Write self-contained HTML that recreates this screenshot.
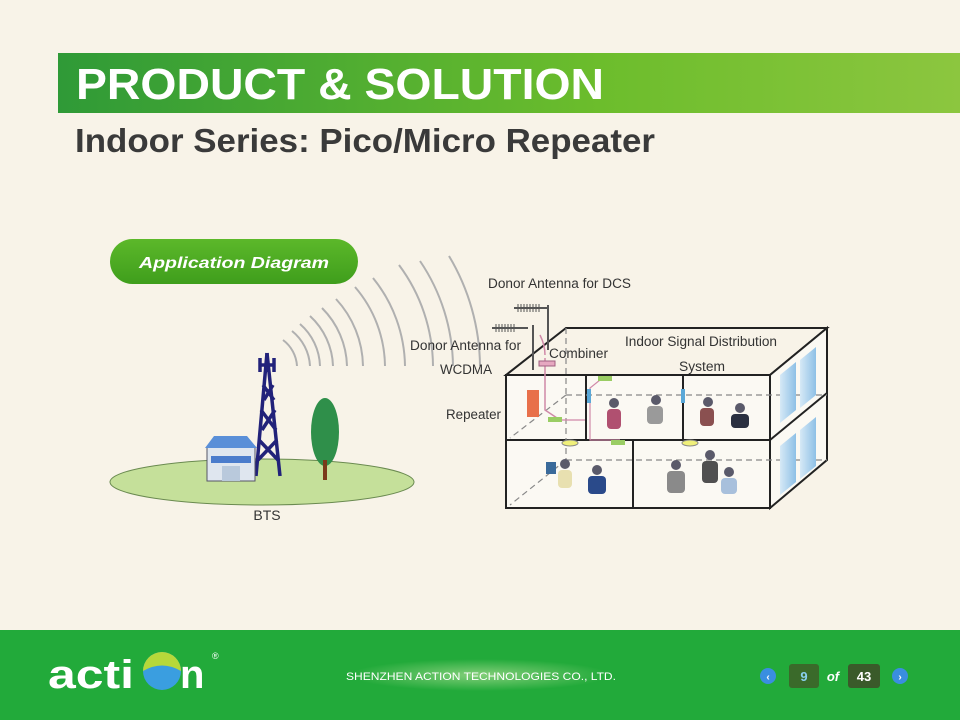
<!DOCTYPE html>
<html><head><meta charset="utf-8"><style>
html,body{margin:0;padding:0;width:960px;height:720px;overflow:hidden;background:#f8f3e8}
svg{display:block}
</style></head><body>
<svg width="960" height="720" viewBox="0 0 960 720" xmlns="http://www.w3.org/2000/svg" font-family="Liberation Sans, sans-serif">
<defs>
<linearGradient id="hg" x1="0" x2="1" y1="0" y2="0">
<stop offset="0" stop-color="#2f9a37"/><stop offset="0.6" stop-color="#6cbd2c"/><stop offset="1" stop-color="#8cc63f"/>
</linearGradient>
<linearGradient id="pill" x1="0" x2="0" y1="0" y2="1">
<stop offset="0" stop-color="#5cb82a"/><stop offset="1" stop-color="#3f9e1c"/>
</linearGradient>
<radialGradient id="glow" cx="0.5" cy="0.5" r="0.5">
<stop offset="0" stop-color="#9cd88a"/><stop offset="1" stop-color="#22aa3a"/>
</radialGradient>
<linearGradient id="win" x1="0" x2="1"><stop offset="0" stop-color="#d6e9f6"/><stop offset="1" stop-color="#8ec0e6"/></linearGradient>
</defs>
<rect width="960" height="720" fill="#f8f3e8"/>
<rect x="58" y="53" width="902" height="60" fill="url(#hg)"/>
<text x="76" y="99" font-size="44" font-weight="bold" fill="#fff" textLength="528" lengthAdjust="spacingAndGlyphs">PRODUCT &amp; SOLUTION</text>
<text x="75" y="152" font-size="33" font-weight="bold" fill="#3a3a3a" textLength="580" lengthAdjust="spacingAndGlyphs">Indoor Series: Pico/Micro Repeater</text>

<rect x="110" y="239" width="248" height="45" rx="22.5" fill="url(#pill)"/>
<text x="139" y="268" font-size="16" font-weight="bold" font-style="italic" fill="#fff" textLength="190" lengthAdjust="spacingAndGlyphs">Application Diagram</text>

<!-- ground -->
<ellipse cx="262" cy="482" rx="152" ry="23" fill="#c5e09a" stroke="#6a8a50" stroke-width="1"/>
<!-- arcs -->
<g fill="none" stroke="#b0b0b0" stroke-width="2">
<path d="M297 366 A35 35 0 0 0 283 340"/>
<path d="M310 366 A48 48 0 0 0 292 331"/>
<path d="M320 366 A58 58 0 0 0 300 324"/>
<path d="M333 366 A71 71 0 0 0 310 316"/>
<path d="M347 366 A85 85 0 0 0 322 308"/>
<path d="M363 366 A101 101 0 0 0 336 299"/>
<path d="M385 366 A123 123 0 0 0 355 287"/>
<path d="M405 366 A143 143 0 0 0 373 278"/>
<path d="M433 366 A171 171 0 0 0 399 265"/>
<path d="M453 366 A191 191 0 0 0 420 261"/>
<path d="M480 366 A218 218 0 0 0 449 256"/>
</g>
<!-- tower -->
<g stroke="#22227a" stroke-width="3.5" fill="none">
<path d="M267 353 L256 476 M267 353 L280 476"/>
<path d="M259 440 L278 460 M277 440 L258 460 M261 410 L276 430 M275 410 L262 430 M263 385 L274 400 M273 385 L264 400"/>
<path d="M260 358 V372 M274 358 V372 M260 365 H274 M267 353 V372"/>
</g>
<!-- building -->
<rect x="207" y="447" width="48" height="34" fill="#dfe6ef" stroke="#556" stroke-width="1"/>
<polygon points="205,448 214,436 247,436 257,448" fill="#5a8fd8"/>
<rect x="211" y="456" width="40" height="7" fill="#4a7ccc"/>
<rect x="222" y="466" width="18" height="15" fill="#b9c9dc"/>
<!-- tree -->
<ellipse cx="325" cy="432" rx="14" ry="34" fill="#2f8f4a"/>
<rect x="323" y="460" width="4" height="20" fill="#7a3a1a"/>
<text x="267" y="520" font-size="14" fill="#333" text-anchor="middle">BTS</text>

<!-- building box -->
<g stroke="#222" stroke-width="2" fill="none">
<polygon points="506,375 566,328 827,328 770,375" fill="#f8f3e8"/>
<rect x="506" y="375" width="264" height="133" fill="#fbf9f3"/>
<polygon points="770,375 827,328 827,460 770,508" fill="#fbf9f3"/>
<line x1="506" y1="440" x2="770" y2="440"/>
<line x1="770" y1="440" x2="827" y2="393"/>
<line x1="586" y1="375" x2="586" y2="440"/>
<line x1="683" y1="375" x2="683" y2="440"/>
<line x1="633" y1="440" x2="633" y2="508"/>
</g>
<g stroke="#888" stroke-width="1.2" stroke-dasharray="6,4" fill="none">
<line x1="566" y1="328" x2="566" y2="460"/>
<line x1="566" y1="395" x2="827" y2="395"/>
<line x1="566" y1="460" x2="827" y2="460"/>
<line x1="566" y1="395" x2="510" y2="438"/>
<line x1="566" y1="460" x2="510" y2="505"/>
</g>
<!-- windows -->
<polygon points="780,375 796,362 796,410 780,423" fill="url(#win)"/>
<polygon points="800,360 816,347 816,395 800,408" fill="url(#win)"/>
<polygon points="780,446 796,433 796,482 780,495" fill="url(#win)"/>
<polygon points="800,430 816,417 816,466 800,479" fill="url(#win)"/>
<!-- antennas -->
<g stroke="#555" stroke-width="2" fill="none">
<line x1="514" y1="308" x2="549" y2="308"/>
<line x1="492" y1="328" x2="528" y2="328"/>
<line x1="548" y1="305" x2="548" y2="350"/>
<line x1="533" y1="325" x2="533" y2="370"/>
</g>
<g stroke="#555" stroke-width="1">
<path d="M518 304v8M521 304v8M524 304v8M527 304v8M530 304v8M533 304v8M536 304v8M539 304v8"/>
<path d="M496 324v8M499 324v8M502 324v8M505 324v8M508 324v8M511 324v8M514 324v8"/>
</g>
<path d="M540 335 Q545 345 545 355 M545 358 V410 L560 420" stroke="#d089a8" stroke-width="1.5" fill="none"/>
<path d="M560 420 L585 420 M600 380 L590 388 V440 L620 440" stroke="#d089a8" stroke-width="1.2" fill="none"/>
<rect x="539" y="361" width="16" height="5" fill="#e6a8c0" stroke="#a06080"/>
<rect x="527" y="390" width="12" height="27" fill="#e8704a"/>
<rect x="548" y="417" width="14" height="5" fill="#9acd64"/>
<rect x="598" y="376" width="14" height="5" fill="#9acd64"/>
<rect x="611" y="440" width="14" height="5" fill="#9acd64"/>
<rect x="587" y="389" width="4" height="14" fill="#5aa8d8"/>
<rect x="681" y="389" width="4" height="14" fill="#5aa8d8"/>
<ellipse cx="570" cy="443" rx="8" ry="3" fill="#f0f07a" stroke="#888"/>
<ellipse cx="690" cy="443" rx="8" ry="3" fill="#f0f07a" stroke="#888"/>
<!-- people blobs -->
<g fill="#5a5a6a">
<circle cx="614" cy="403" r="5"/><rect x="607" y="409" width="14" height="20" rx="4" fill="#b05070"/>
<circle cx="656" cy="400" r="5"/><rect x="647" y="406" width="16" height="18" rx="4" fill="#9a9a9a"/>
<circle cx="708" cy="402" r="5"/><rect x="700" y="408" width="14" height="18" rx="4" fill="#8a5050"/>
<circle cx="740" cy="408" r="5"/><rect x="731" y="414" width="18" height="14" rx="4" fill="#2a3040"/>
<rect x="546" y="462" width="10" height="12" fill="#3a6a9a"/>
<circle cx="565" cy="464" r="5"/><rect x="558" y="470" width="14" height="18" rx="4" fill="#e8e0b0"/>
<circle cx="597" cy="470" r="5"/><rect x="588" y="476" width="18" height="18" rx="4" fill="#2a4a8a"/>
<circle cx="676" cy="465" r="5"/><rect x="667" y="471" width="18" height="22" rx="4" fill="#8a8a8a"/>
<circle cx="710" cy="455" r="5"/><rect x="702" y="461" width="16" height="22" rx="4" fill="#505050"/>
<circle cx="729" cy="472" r="5"/><rect x="721" y="478" width="16" height="16" rx="4" fill="#a8c0dc"/>
</g>
<g font-size="13.5" fill="#333">
<text x="488" y="288" textLength="143" lengthAdjust="spacingAndGlyphs">Donor Antenna for DCS</text>
<text x="410" y="350" textLength="111" lengthAdjust="spacingAndGlyphs">Donor Antenna for</text>
<text x="440" y="374" textLength="52" lengthAdjust="spacingAndGlyphs">WCDMA</text>
<text x="446" y="419" textLength="55" lengthAdjust="spacingAndGlyphs">Repeater</text>
<text x="549" y="358" textLength="59" lengthAdjust="spacingAndGlyphs">Combiner</text>
<text x="625" y="346" textLength="152" lengthAdjust="spacingAndGlyphs">Indoor Signal Distribution</text>
<text x="679" y="371" textLength="46" lengthAdjust="spacingAndGlyphs">System</text>
</g>

<!-- footer -->
<rect x="0" y="630" width="960" height="90" fill="#22aa3a"/>
<ellipse cx="480" cy="675" rx="130" ry="16" fill="url(#glow)" opacity="0.8"/>
<text x="346" y="680" font-size="11" fill="#fff" textLength="270" lengthAdjust="spacingAndGlyphs">SHENZHEN ACTION TECHNOLOGIES CO., LTD.</text>
<text x="48" y="688" font-size="40" font-weight="bold" fill="#fff" textLength="86" lengthAdjust="spacingAndGlyphs">acti</text>
<circle cx="162" cy="671" r="19" fill="#3a9ee0"/>
<path d="M143 671 A19 19 0 0 1 181 671 Q162 660 143 671Z" fill="#b7d83a"/>
<text x="180" y="688" font-size="40" font-weight="bold" fill="#fff">n</text>
<text x="212" y="659" font-size="9" fill="#fff">®</text>
<circle cx="768" cy="676" r="8" fill="#3a8ee0"/>
<text x="768" y="680" font-size="10" font-weight="bold" fill="#fff" text-anchor="middle">‹</text>
<rect x="789" y="664" width="30" height="24" rx="3" fill="#3a6a2a"/>
<text x="804" y="681" font-size="13" font-weight="bold" fill="#8ad0f0" text-anchor="middle">9</text>
<text x="833" y="681" font-size="13" font-weight="bold" font-style="italic" fill="#fff" text-anchor="middle">of</text>
<rect x="848" y="664" width="32" height="24" rx="3" fill="#3a5a2a"/>
<text x="864" y="681" font-size="13" font-weight="bold" fill="#fff" text-anchor="middle">43</text>
<circle cx="900" cy="676" r="8" fill="#3a8ee0"/>
<text x="900" y="680" font-size="10" font-weight="bold" fill="#fff" text-anchor="middle">›</text>
</svg>
</body></html>
